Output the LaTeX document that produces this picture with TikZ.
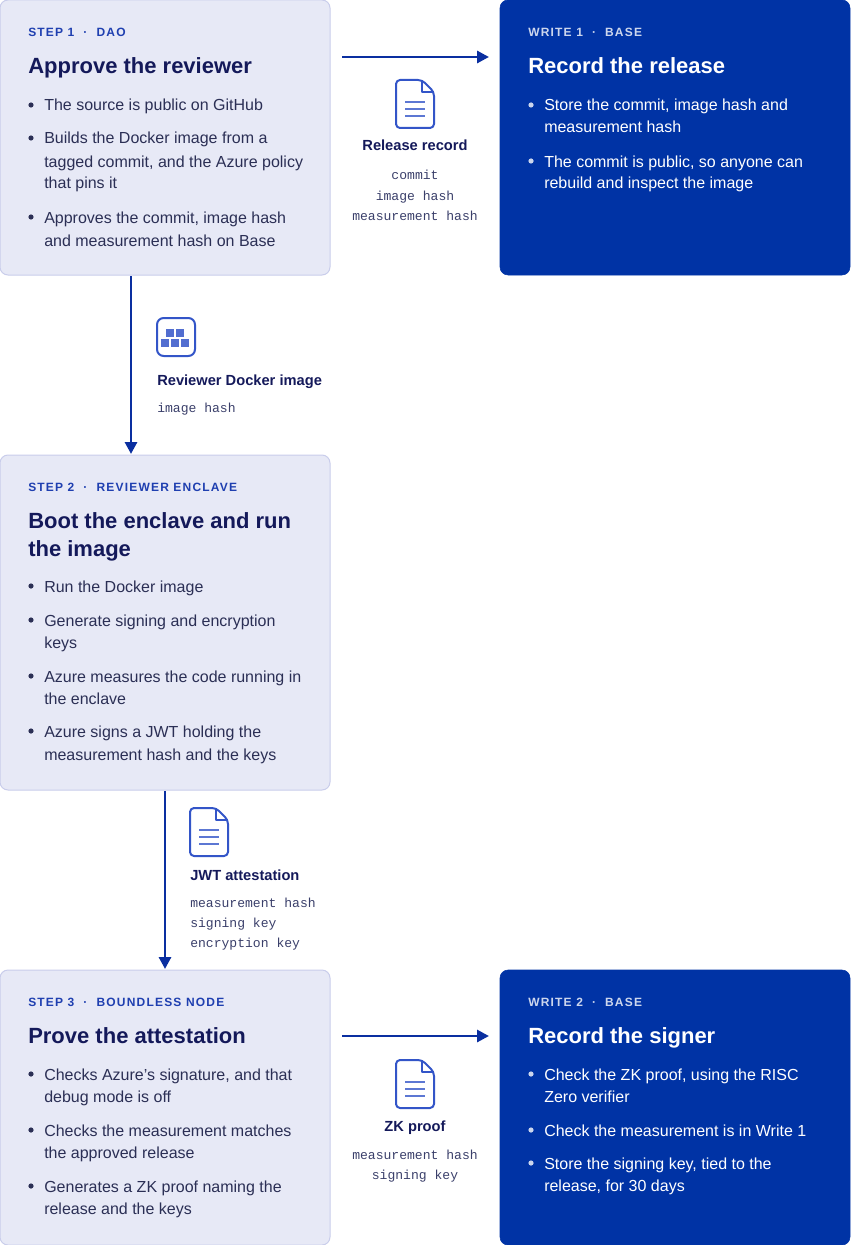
\documentclass[tikz,border=0pt]{standalone}
\usepackage{fontspec}
\usetikzlibrary{arrows.meta}
\setmainfont{Liberation Sans}
\newfontfamily\monof{Liberation Mono}
\definecolor{lightf}{HTML}{E7E9F6}
\definecolor{lightb}{HTML}{C9CDEB}
\definecolor{darkf}{HTML}{0033A5}
\definecolor{navy}{HTML}{14195A}
\definecolor{lblue}{HTML}{1F3FB0}
\definecolor{body}{HTML}{2B2F55}
\definecolor{arr}{HTML}{0A2FA0}
\definecolor{icon}{HTML}{3355C8}
\definecolor{monoc}{HTML}{3A3F6A}
\begin{document}
\begin{tikzpicture}[x=0.75pt,y=-0.75pt,
  lbox/.style={fill=lightf,draw=lightb,line width=0.75pt,rounded corners=6pt},
  dbox/.style={fill=darkf,draw=darkf,rounded corners=6pt},
  lab/.style={anchor=base west,inner sep=0,font=\fontsize{9}{10}\selectfont\bfseries\addfontfeatures{LetterSpace=10}},
  ttl/.style={anchor=base west,inner sep=0,font=\fontsize{16.5}{18}\selectfont\bfseries},
  txt/.style={anchor=base west,inner sep=0,font=\fontsize{12}{14}\selectfont},
  capt/.style={anchor=base,inner sep=0,font=\fontsize{11}{13}\selectfont\bfseries,text=navy},
  mono/.style={anchor=base,inner sep=0,font=\fontsize{9.8}{12}\selectfont\monof,text=monoc},
  flow/.style={draw=arr,line width=2.2pt,-{Triangle[length=9pt,width=9pt]}},
  ic/.style={draw=icon,line width=1.5pt,line join=round}]
\useasboundingbox (0,0) rectangle (850,1245);
\newcommand\doc[2]{%
  \draw[ic,rounded corners=3pt] (#1-19,#2) -- (#1+7,#2) -- (#1+19,#2+12) -- (#1+19,#2+48) -- (#1-19,#2+48) -- cycle;
  \draw[ic] (#1+7,#2) -- (#1+7,#2+12) -- (#1+19,#2+12);
  \foreach \yy in {22,29,36} \draw[icon!80,line width=1.3pt] (#1-10,#2+\yy) -- (#1+10,#2+\yy);}
\newcommand\bl[3]{\fill[#3] (31,#1) circle (2.6); \node[txt,text=#3] at (44,#1+6) {#2};}
% boxes
\path[lbox] (0,0) rectangle (330,275);
\path[dbox] (500,0) rectangle (850,275);
\path[lbox] (0,455) rectangle (330,790);
\path[lbox] (0,970) rectangle (330,1245);
\path[dbox] (500,970) rectangle (850,1245);
% step 1
\node[lab,text=lblue] (l1) at (28,37) {STEP 1~~·~~DAO};
\node[ttl,text=navy] (t1) at (28,74) {Approve the reviewer};
\bl{105}{The source is public on GitHub}{body}
\bl{138}{Builds the Docker image from a}{body}
\node[txt,text=body] at (44,167) {tagged commit, and the Azure policy};
\node[txt,text=body] at (44,189) {that pins it};
\bl{217}{Approves the commit, image hash}{body}
\node[txt,text=body] at (44,246) {and measurement hash on Base};
% write 1
\node[lab,text=white!80!darkf] at (528,37) {WRITE 1~~·~~BASE};
\node[ttl,text=white] at (528,74) {Record the release};
\fill[white!80!darkf] (531,105) circle (2.6); \node[txt,text=white] at (544,111) {Store the commit, image hash and};
\node[txt,text=white] at (544,133) {measurement hash};
\fill[white!80!darkf] (531,161) circle (2.6); \node[txt,text=white] at (544,167) {The commit is public, so anyone can};
\node[txt,text=white] at (544,189) {rebuild and inspect the image};
% step 2
\node[lab,text=lblue] at (28,491) {STEP 2~~·~~REVIEWER ENCLAVE};
\node[ttl,text=navy] at (28,528) {Boot the enclave and run};
\node[ttl,text=navy] at (28,556) {the image};
\bl{586}{Run the Docker image}{body}
\bl{620}{Generate signing and encryption}{body}
\node[txt,text=body] at (44,648) {keys};
\bl{676}{Azure measures the code running in}{body}
\node[txt,text=body] at (44,704) {the enclave};
\bl{731}{Azure signs a JWT holding the}{body}
\node[txt,text=body] at (44,760) {measurement hash and the keys};
% step 3
\node[lab,text=lblue] at (28,1006) {STEP 3~~·~~BOUNDLESS NODE};
\node[ttl,text=navy] at (28,1043) {Prove the attestation};
\bl{1074}{Checks Azure's signature, and that}{body}
\node[txt,text=body] at (44,1102) {debug mode is off};
\bl{1130}{Checks the measurement matches}{body}
\node[txt,text=body] at (44,1158) {the approved release};
\bl{1186}{Generates a ZK proof naming the}{body}
\node[txt,text=body] at (44,1214) {release and the keys};
% write 2
\node[lab,text=white!80!darkf] at (528,1006) {WRITE 2~~·~~BASE};
\node[ttl,text=white] at (528,1043) {Record the signer};
\fill[white!80!darkf] (531,1074) circle (2.6); \node[txt,text=white] at (544,1080) {Check the ZK proof, using the RISC};
\node[txt,text=white] at (544,1102) {Zero verifier};
\fill[white!80!darkf] (531,1130) circle (2.6); \node[txt,text=white] at (544,1136) {Check the measurement is in Write 1};
\fill[white!80!darkf] (531,1163) circle (2.6); \node[txt,text=white] at (544,1169) {Store the signing key, tied to the};
\node[txt,text=white] at (544,1191) {release, for 30 days};
% connectors
\coordinate (a1) at (342,57); \coordinate (a2) at (489,57);
\draw[flow] (a1) -- (a2);
\coordinate (b1) at (131,276); \coordinate (b2) at (131,454);
\draw[flow] (b1) -- (b2);
\coordinate (c1) at (165,791); \coordinate (c2) at (165,969);
\draw[flow] (c1) -- (c2);
\coordinate (d1) at (342,1036); \coordinate (d2) at (489,1036);
\draw[flow] (d1) -- (d2);
% release record
\doc{415}{80}
\node[capt] at (415,151) {Release record};
\node[mono] at (415,180) {commit};
\node[mono] at (415,200) {image hash};
\node[mono] at (415,220) {measurement hash};
% docker
\draw[ic,rounded corners=5pt] (157,318) rectangle (195,356);
\foreach \xx/\yy in {170/333,180/333,165/343,175/343,185/343}
  \fill[icon!85] (\xx-4.2,\yy-4.2) rectangle (\xx+4.2,\yy+4.2);
\node[capt,anchor=base west] at (157,385) {Reviewer Docker image};
\node[mono,anchor=base west] at (157,412) {image hash};
% jwt
\doc{209}{808}
\node[capt,anchor=base west] at (190,880) {JWT attestation};
\node[mono,anchor=base west] at (190,907) {measurement hash};
\node[mono,anchor=base west] at (190,927) {signing key};
\node[mono,anchor=base west] at (190,947) {encryption key};
% zk
\doc{415}{1060}
\node[capt] at (415,1131) {ZK proof};
\node[mono] at (415,1159) {measurement hash};
\node[mono] at (415,1179) {signing key};
\end{tikzpicture}
\end{document}
